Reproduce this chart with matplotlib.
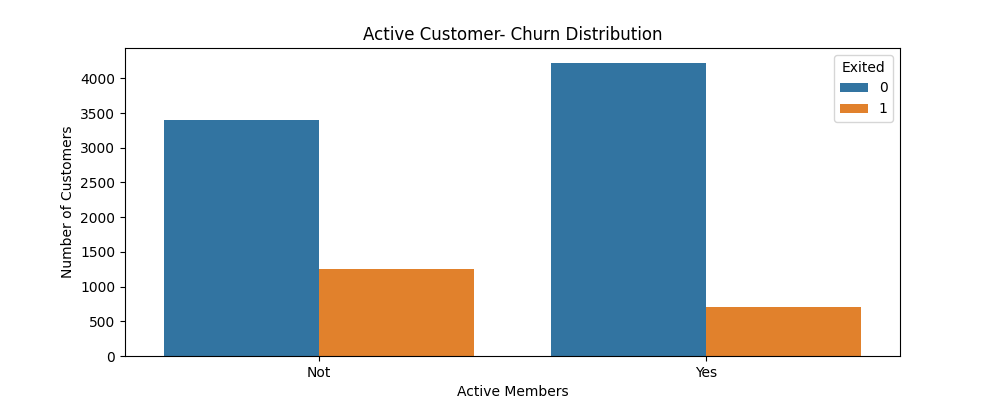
import matplotlib.pyplot as plt
import numpy as np

# Active member vs churn counts
categories = ["Not", "Yes"]
exited_labels = ["0", "1"]
counts_0 = [3405, 4225]   # Exited = 0
counts_1 = [1258, 700]    # Exited = 1
colors = ["#3274a1", "#e1812c"]

fig, ax = plt.subplots(figsize=(10, 4), dpi=100)
x = np.arange(len(categories))
w = 0.4
ax.bar(x - w / 2, counts_0, width=w, color=colors[0], label=exited_labels[0])
ax.bar(x + w / 2, counts_1, width=w, color=colors[1], label=exited_labels[1])

ax.set_xticks(x)
ax.set_xticklabels(categories)
ax.set_xlim(-0.5, len(categories) - 0.5)
ax.set_title("Active Customer- Churn Distribution")
ax.set_xlabel("Active Members")
ax.set_ylabel("Number of Customers")
ax.legend(title="Exited", loc="upper right")

fig.savefig("out.png")
